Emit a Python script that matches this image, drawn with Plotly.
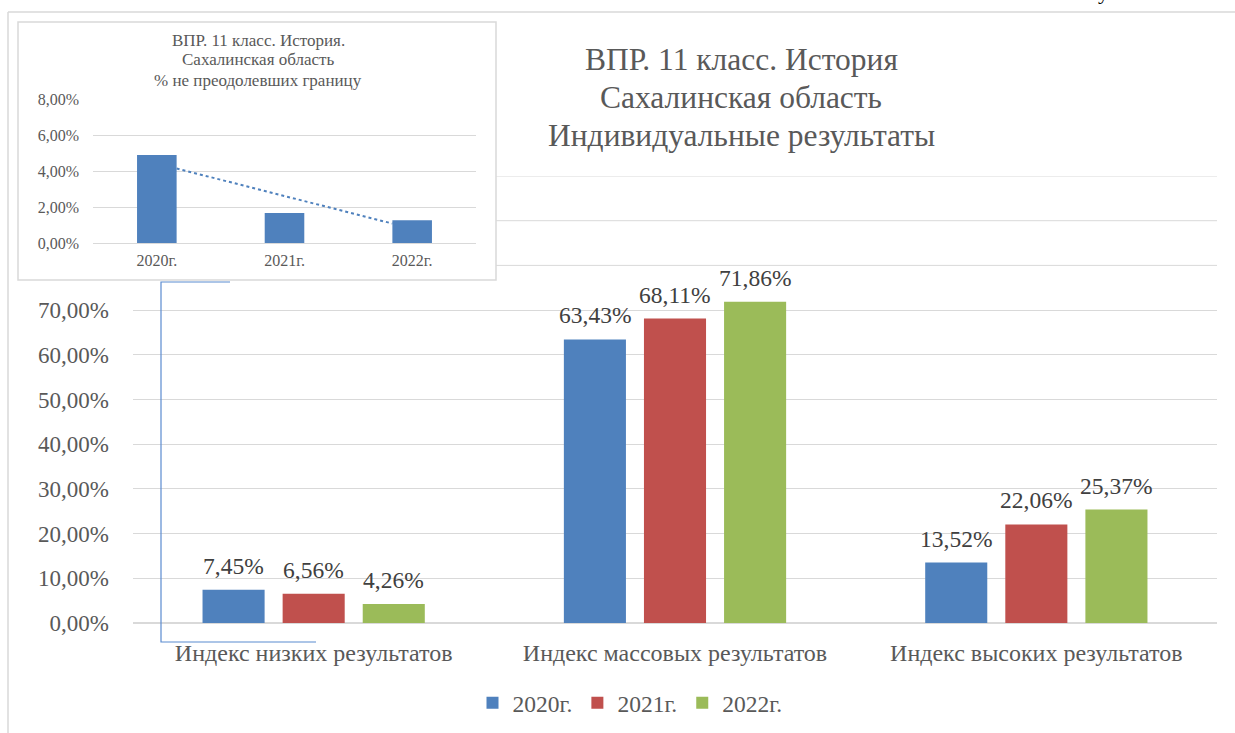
import numpy as np
import plotly.graph_objects as go

W, H = 1235, 733

# main chart data (percent)
categories = ["Индекс низких результатов", "Индекс массовых результатов", "Индекс высоких результатов"]
years = ["2020г.", "2021г.", "2022г."]
values_2020 = [7.45, 63.43, 13.52]
values_2021 = [6.56, 68.11, 22.06]
values_2022 = [4.26, 71.86, 25.37]
label_ticks = [0, 10, 20, 30, 40, 50, 60, 70]
hidden_grid = [80, 90, 100]   # gridlines partly covered by the inset

# inset data (percent of students below threshold)
inset_years = ["2020г.", "2021г.", "2022г."]
inset_values = [4.89, 1.67, 1.27]
inset_ticks = [0, 2, 4, 6, 8]

title_lines = ["ВПР. 11 класс. История", "Сахалинская область", "Индивидуальные результаты"]
inset_title_lines = ["ВПР. 11 класс. История.", "Сахалинская область", "% не преодолевших границу"]

colors = ["#4F81BD", "#C0504D", "#9BBB59"]
FONT = "Liberation Serif, Times New Roman, serif"
GRAY = "#595959"
GRID = "#d9d9d9"

# layout in page pixels
PLOT_L, PLOT_R, PLOT_B, PLOT_T = 133, 1217, 623, 176
BARGAP = 0.335


def fmt(v):
    return f"{v:.2f}".replace(".", ",") + "%"


def px(x):
    return x / W


def py(y):
    return 1 - y / H


fig = go.Figure()

series = [values_2020, values_2021, values_2022]
for name, vals, col in zip(years, series, colors):
    fig.add_trace(go.Bar(
        x=categories, y=vals, name=name, marker=dict(color=col, line=dict(width=0)),
        xaxis="x", yaxis="y",
    ))

# value labels above bars (slightly higher than plotly's own outside text)
slot = (PLOT_R - PLOT_L) / len(categories) * (1 - BARGAP) / len(series)
for i, vals in enumerate(series):
    for cat, v in zip(categories, vals):
        fig.add_annotation(
            x=cat, y=v, xref="x", yref="y", text=fmt(v), showarrow=False,
            xshift=(i - (len(series) - 1) / 2) * slot, yshift=24, yanchor="middle",
            font=dict(family=FONT, size=23.5, color="#404040"),
        )

# inset bars + linear trend
bar_w = 0.31
fig.add_trace(go.Bar(
    x=[0, 1, 2], y=inset_values, width=bar_w, marker=dict(color=colors[0], line=dict(width=0)),
    showlegend=False, xaxis="x2", yaxis="y2",
))
k, b = np.polyfit([0, 1, 2], inset_values, 1)
tx = np.array([bar_w / 2, 2 - bar_w / 2])
fig.add_trace(go.Scatter(
    x=tx, y=k * tx + b, mode="lines", line=dict(color=colors[0], width=2, dash="dot"),
    showlegend=False, xaxis="x2", yaxis="y2", hoverinfo="skip",
))

fig.update_layout(
    template="none",
    width=W, height=H,
    margin=dict(l=0, r=0, t=0, b=0, autoexpand=False),
    paper_bgcolor="white", plot_bgcolor="rgba(0,0,0,0)",
    barmode="group", bargap=BARGAP, bargroupgap=0.225,
    font=dict(family=FONT, color=GRAY),
    xaxis=dict(
        domain=[px(PLOT_L), px(PLOT_R)], anchor="y", automargin=False,
        tickfont=dict(family=FONT, size=24, color=GRAY), ticks="", ticklabelstandoff=13,
        showline=False, showgrid=False, zeroline=False,
    ),
    yaxis=dict(
        domain=[py(PLOT_B), py(PLOT_T)], anchor="x", range=[0, 100], automargin=False,
        tickvals=label_ticks, ticktext=[fmt(t) for t in label_ticks],
        tickfont=dict(family=FONT, size=23, color=GRAY), ticklabelstandoff=23, ticks="",
        showline=False, showgrid=True, gridcolor=GRID, gridwidth=1,
        zeroline=True, zerolinecolor=GRID, zerolinewidth=1.5,
    ),
    xaxis2=dict(
        domain=[px(93), px(476)], anchor="y2", range=[-0.5, 2.5], automargin=False,
        tickvals=[0, 1, 2], ticktext=inset_years,
        tickfont=dict(family=FONT, size=16, color=GRAY), ticks="", ticklabelstandoff=6,
        showline=False, showgrid=False, zeroline=False,
    ),
    yaxis2=dict(
        domain=[py(243), py(99)], anchor="x2", range=[0, 8], automargin=False,
        tickvals=inset_ticks, ticktext=[fmt(t) for t in inset_ticks],
        tickfont=dict(family=FONT, size=16, color=GRAY), ticklabelstandoff=13, ticks="",
        showline=False, showgrid=True, gridcolor=GRID, gridwidth=1,
        zeroline=True, zerolinecolor=GRID,
    ),
    legend=dict(
        orientation="h", x=px(630), xanchor="center", y=py(703), yanchor="middle",
        font=dict(family=FONT, size=23.5, color=GRAY), itemwidth=30,
        bgcolor="rgba(0,0,0,0)",
    ),
    showlegend=True,
)

# upper gridlines of the main chart only to the right of the inset
for t in hidden_grid:
    fig.add_shape(type="line", xref="x domain", yref="y",
                  x0=(496 - PLOT_L) / (PLOT_R - PLOT_L), x1=1, y0=t, y1=t,
                  line=dict(color=GRID, width=1), layer="below")

# main title, one annotation per line
for line, yc in zip(title_lines, [60, 97, 135]):
    fig.add_annotation(
        text=line, xref="paper", yref="paper", x=px(741), y=py(yc),
        xanchor="center", yanchor="middle", showarrow=False,
        font=dict(family=FONT, size=31.5, color=GRAY),
    )

# inset frame and title
fig.add_shape(
    type="rect", xref="paper", yref="paper",
    x0=px(18), x1=px(496), y0=py(280), y1=py(22),
    line=dict(color=GRID, width=1.5), layer="below",
)
for line, yc in zip(inset_title_lines, [40, 60, 80]):
    fig.add_annotation(
        text=line, xref="paper", yref="paper", x=px(258), y=py(yc),
        xanchor="center", yanchor="middle", showarrow=False,
        font=dict(family=FONT, size=17, color=GRAY),
    )

# callout bracket linking inset to the first group
fig.add_shape(
    type="path", xref="paper", yref="paper",
    path=f"M {px(230)} {py(282)} L {px(161)} {py(282)} L {px(161)} {py(642)} L {px(316)} {py(642)}",
    line=dict(color="#5B8BD0", width=1.2), layer="above",
)

# page frame
fig.add_shape(type="line", xref="paper", yref="paper", x0=px(8), x1=1, y0=py(12), y1=py(12),
              line=dict(color=GRID, width=1.5))
fig.add_shape(type="line", xref="paper", yref="paper", x0=px(8), x1=px(8), y0=py(12), y1=0,
              line=dict(color=GRID, width=1.5))

# cut-off character from the page above
fig.add_annotation(
    text="у", xref="paper", yref="paper", x=px(1103), y=py(-8), xanchor="center", yanchor="middle",
    showarrow=False, font=dict(family=FONT, size=22, color="black"),
)

fig.write_html("out.html", config={"displayModeBar": False},
               post_script="document.body.style.margin='0';")
